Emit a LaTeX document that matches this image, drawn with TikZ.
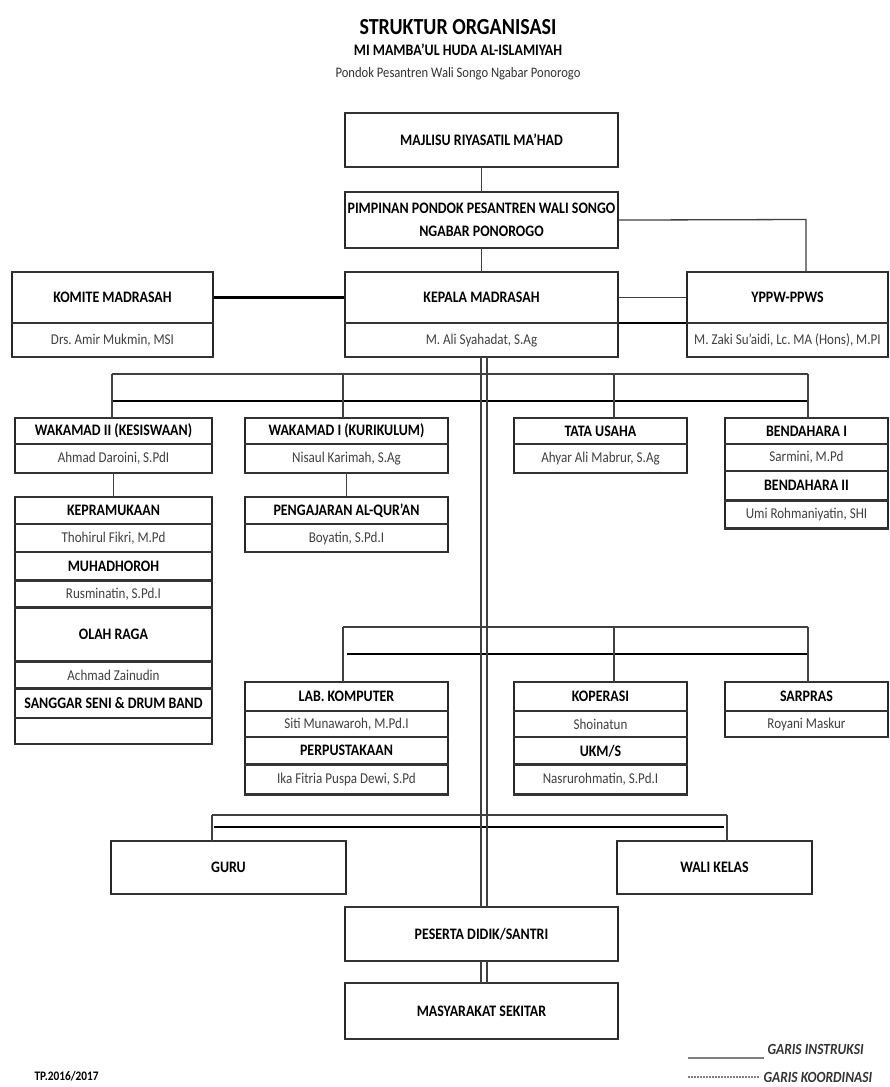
\documentclass[tikz,border=0pt]{standalone}
\usepackage{fontspec}
\setmainfont{Carlito}[FakeStretch=0.87]
\usetikzlibrary{positioning}
\frenchspacing

\begin{document}
\begin{tikzpicture}[x=1pt,y=-1pt,
  rule/.style={line width=2.4pt, draw=black!80},
  hd/.style={draw=black!85, line width=1.1pt, inner sep=0pt, minimum width=#1, minimum height=25pt,
    font=\bfseries\fontsize{16}{18}\selectfont,
    append after command={(\tikzlastnode.north west) edge[rule] (\tikzlastnode.north east)
      (\tikzlastnode.south west) edge[rule] (\tikzlastnode.south east)}},
  nm/.style={hd=#1, font=\fontsize{15}{17}\selectfont, text=black!75},
  ins/.style={line width=1.3pt, draw=black!75},
  bus/.style={line width=2.6pt, draw=black},
  ket/.style={font=\bfseries\itshape\fontsize{15.5}{17}\selectfont, text=black!80, anchor=west}]
\useasboundingbox (0,0) rectangle (890,1087);
\fill[white] (0,0) rectangle (890,1087);

% judul
\node[font=\bfseries\fontsize{23}{25}\selectfont] (judul) at (458,27) {STRUKTUR ORGANISASI};
\node[font=\bfseries\fontsize{16}{18}\selectfont] (mi) at (458,50) {MI MAMBA'UL HUDA AL-ISLAMIYAH};
\node[font=\fontsize{14.5}{16}\selectfont, text=black!80] (pondok) at (458,74) {Pondok Pesantren Wali Songo Ngabar Ponorogo};

% pimpinan
\node[hd=273, minimum height=53pt, anchor=north] (majlis) at (481.5,113) {MAJLISU RIYASATIL MA'HAD};
\node[hd=273, minimum height=55pt, anchor=north, align=center] (pimpinan) at (481.5,192)
  {PIMPINAN PONDOK PESANTREN WALI SONGO\\[5pt]NGABAR PONOROGO};

\node[hd=201, minimum height=50pt, anchor=north] (komite) at (112.5,272) {KOMITE MADRASAH};
\node[nm=201, minimum height=33pt, below=0pt of komite] (komiteN) {Drs. Amir Mukmin, MSI};
\node[hd=273, minimum height=50pt, anchor=north] (kepala) at (481.5,272) {KEPALA MADRASAH};
\node[nm=273, minimum height=33pt, below=0pt of kepala] (kepalaN) {M. Ali Syahadat, S.Ag};
\node[hd=201, minimum height=50pt, anchor=north] (yppw) at (787.5,272) {YPPW-PPWS};
\node[nm=201, minimum height=33pt, below=0pt of yppw] (yppwN) {M. Zaki Su'aidi, Lc. MA (Hons), M.PI};

% wakamad dll
\node[hd=197, anchor=north] (wk2) at (113.5,418) {WAKAMAD II (KESISWAAN)};
\node[nm=197, minimum height=28pt, below=0pt of wk2] (wk2N) {Ahmad Daroini, S.PdI};
\node[hd=203, anchor=north] (wk1) at (346.5,418) {WAKAMAD I (KURIKULUM)};
\node[nm=203, minimum height=28pt, below=0pt of wk1] (wk1N) {Nisaul Karimah, S.Ag};
\node[hd=173, anchor=north] (tu) at (600.5,418) {TATA USAHA};
\node[nm=173, minimum height=28pt, below=0pt of tu] (tuN) {Ahyar Ali Mabrur, S.Ag};
\node[hd=163, anchor=north] (bend) at (806.5,418) {BENDAHARA I};
\node[nm=163, minimum height=26pt, below=0pt of bend] (bendN) {Sarmini, M.Pd};
\node[hd=163, minimum height=28pt, below=0pt of bendN] (bend2) {BENDAHARA II};
\node[nm=163, minimum height=27pt, below=0pt of bend2] (bend2N) {Umi Rohmaniyatin, SHI};

\node[hd=197, minimum height=26pt, anchor=north] (kepr) at (113.5,497) {KEPRAMUKAAN};
\node[nm=197, minimum height=27pt, below=0pt of kepr] (keprN) {Thohirul Fikri, M.Pd};
\node[hd=197, minimum height=27pt, below=0pt of keprN] (muhad) {MUHADHOROH};
\node[nm=197, minimum height=26pt, below=0pt of muhad] (muhadN) {Rusminatin, S.Pd.I};
\node[hd=197, minimum height=53pt, below=0pt of muhadN] (olah) {OLAH RAGA};
\node[nm=197, minimum height=26pt, below=0pt of olah] (olahN) {Achmad Zainudin};
\node[hd=197, minimum height=28pt, below=0pt of olahN] (seni) {SANGGAR SENI \& DRUM BAND};
\node[nm=197, minimum height=25pt, below=0pt of seni] (seniN) {};

\node[hd=203, minimum height=26pt, anchor=north] (quran) at (346.5,497) {PENGAJARAN AL-QUR'AN};
\node[nm=203, minimum height=27pt, below=0pt of quran] (quranN) {Boyatin, S.Pd.I};

% unit
\node[hd=203, minimum height=28pt, anchor=north] (lab) at (346.5,682) {LAB. KOMPUTER};
\node[nm=203, minimum height=25pt, below=0pt of lab] (labN) {Siti Munawaroh, M.Pd.I};
\node[hd=203, minimum height=26pt, below=0pt of labN] (pus) {PERPUSTAKAAN};
\node[nm=203, minimum height=29pt, below=0pt of pus] (pusN) {Ika Fitria Puspa Dewi, S.Pd};
\node[hd=173, minimum height=28pt, anchor=north] (kop) at (600.5,682) {KOPERASI};
\node[nm=173, minimum height=25pt, below=0pt of kop] (kopN) {Shoinatun};
\node[hd=173, minimum height=26pt, below=0pt of kopN] (ukm) {UKM/S};
\node[nm=173, minimum height=29pt, below=0pt of ukm] (ukmN) {Nasrurohmatin, S.Pd.I};
\node[hd=163, minimum height=28pt, anchor=north] (sar) at (806.5,682) {SARPRAS};
\node[nm=163, minimum height=25pt, below=0pt of sar] (sarN) {Royani Maskur};

\node[hd=235, minimum height=52pt, anchor=north] (guru) at (228.5,841) {GURU};
\node[hd=195, minimum height=52pt, anchor=north] (wali) at (714.5,841) {WALI KELAS};
\node[hd=273, minimum height=53pt, anchor=north] (santri) at (481.5,907) {PESERTA DIDIK/SANTRI};
\node[hd=273, minimum height=55pt, anchor=north] (masy) at (481.5,983) {MASYARAKAT SEKITAR};

% garis atas
\draw[ins] (majlis) -- (pimpinan);
\draw[ins] (pimpinan) -- (kepala);
\coordinate (yp) at (806,219.5);
\draw[ins] (pimpinan.east) -- (yp) -- (yp |- yppw.north);
\draw[bus] (komite) -- (kepala);
\draw[ins] (kepala) -- (yppw);
\draw[bus] (kepala.south east) -- (yppw.south west);

% garis wakamad
\coordinate (a1) at (112,374);
\coordinate (a2) at (343,374);
\coordinate (a3) at (614,374);
\coordinate (a4) at (808,374);
\coordinate (t1) at (112,401);
\coordinate (t4) at (808,401);
\draw[ins] (a1) -- (a4);
\draw[bus] (t1) -- (t4);
\foreach \c/\n in {a1/wk2, a2/wk1, a3/tu, a4/bend}
  \draw[ins] (\c) -- (\c |- \n.north);
\draw[ins] (wk2N) -- (kepr);
\draw[ins] (wk1N) -- (quran);

% garis unit
\coordinate (c2) at (343,627);
\coordinate (c3) at (614,627);
\coordinate (c4) at (808,627);
\coordinate (u2) at (347,654);
\coordinate (u4) at (808,654);
\draw[ins] (c2) -- (c4);
\draw[bus] (u2) -- (u4);
\foreach \c/\n in {c2/lab, c3/kop, c4/sar}
  \draw[ins] (\c) -- (\c |- \n.north);

% garis guru
\coordinate (g1) at (212,815);
\coordinate (g2) at (727,815);
\coordinate (h1) at (214,827);
\coordinate (h2) at (724,827);
\draw[ins] (g1) -- (g2);
\draw[bus] (h1) -- (h2);
\foreach \c/\n in {g1/guru, g2/wali}
  \draw[ins] (\c) -- (\c |- \n.north);

% garis ganda
\foreach \s in {-0.5,5.5}{
  \draw[ins] ([xshift=\s pt]kepalaN.south) -- ([xshift=\s pt]santri.north);
  \draw[ins] ([xshift=\s pt]santri.south) -- ([xshift=\s pt]masy.north);
}

% keterangan
\node[ket] (instr) at (764,1049) {GARIS INSTRUKSI};
\node[ket] (koord) at (760,1077) {GARIS KOORDINASI};
\coordinate (li) at (688,1058);
\coordinate (lk) at (688,1077);
\draw[line width=1.3pt, black!50] (li) -- (li -| instr.west);
\draw[line width=1.3pt, black!50, dash pattern=on 2pt off 1pt] (lk) -- (lk -| koord.west);
\node[font=\bfseries\fontsize{13}{15}\selectfont, anchor=west] (tp) at (31,1076) {TP.2016/2017};
\end{tikzpicture}
\end{document}
